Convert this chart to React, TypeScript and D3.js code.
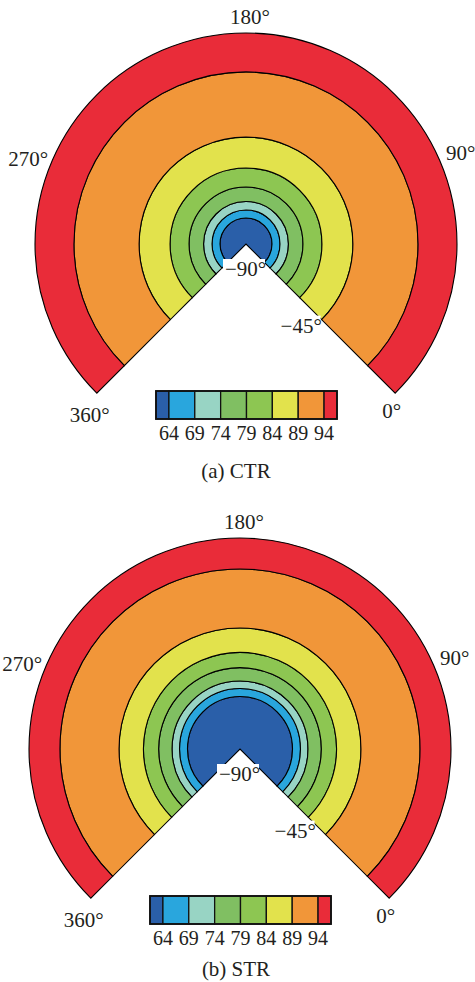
import * as d3 from 'd3';
import React from 'react';

// contour levels and the fill colour of each band (below 64 ... above 94)
const levels = [64, 69, 74, 79, 84, 89, 94];
const bandColors = ['#2A5FA9', '#29A6DD', '#98D4C4', '#80BF62', '#8DC652', '#E2E24C', '#F19639', '#E92C39'];
const azimuthTicks = [0, 90, 180, 270, 360];
const elevationTicks = [-90, -45];
const ctrContour = [-78.9, -75.5, -71.9, -65.7, -57.6, -44.4, -16.6];
const strContour = [-67.6, -64.2, -61.0, -55.3, -48.8, -38.4, -13.2];

const R = 211;
const font = "'Liberation Serif', 'Times New Roman', serif";
const ink = '#231F20';

// where each azimuth label sits relative to its point on the rim
const azLabel = {
  0: { dx: -13, dy: 25, anchor: 'start' },
  90: { dx: 5, dy: -3, anchor: 'start' },
  180: { dx: 4, dy: -9, anchor: 'middle' },
  270: { dx: -3, dy: 3, anchor: 'end' },
  360: { dx: -27, dy: 29, anchor: 'start' },
};

function Panel({ cx, cy, contour, caption, captionY }) {
  const rScale = d3.scaleLinear().domain([-90, 0]).range([0, R]);
  const aScale = d3.scaleLinear().domain([0, 360]).range([(3 * Math.PI) / 4, (-3 * Math.PI) / 4]);
  const arc = d3.arc();

  const polar = (az, el) => {
    const a = aScale(az), r = rScale(el);
    return [cx + r * Math.sin(a), cy - r * Math.cos(a)];
  };

  const bands = bandColors.map((c, k) => ({
    color: c,
    inner: k === 0 ? -90 : contour[k - 1],
    outer: k === bandColors.length - 1 ? 0 : contour[k],
  }));

  const legX = d3.scaleLinear().domain([61.5, 96.5]).range([cx - 90, cx + 91]);
  const edges = [61.5, ...levels, 96.5];
  const legY = cy + 147;

  return (
    <g>
      <g transform={`translate(${cx},${cy})`}>
        {bands.map((b, i) => (
          <path
            key={i}
            d={arc({
              innerRadius: rScale(b.inner),
              outerRadius: rScale(b.outer),
              startAngle: aScale(360),
              endAngle: aScale(0),
            })}
            fill={b.color}
            stroke="#000"
            strokeWidth={1.1}
          />
        ))}
      </g>

      {azimuthTicks.map((t) => {
        const [x, y] = polar(t, 0);
        const o = azLabel[t];
        return (
          <text key={t} x={x + o.dx} y={y + o.dy} textAnchor={o.anchor} fontSize={21} fontFamily={font} fill={ink}>
            {t}°
          </text>
        );
      })}

      {elevationTicks.map((t) => {
        const [x, y] = polar(0, t);
        const tx = t === -90 ? x - 21 : x - 40;
        const ty = t === -90 ? y + 32 : y + 14;
        return (
          <g key={t}>
            <rect x={tx - 2} y={ty - 17} width={42} height={20} fill="#fff" />
            <text x={tx} y={ty} fontSize={21} fontFamily={font} fill={ink}>
              {'\u2212' + Math.abs(t)}°
            </text>
          </g>
        );
      })}

      {bandColors.map((c, i) => (
        <rect
          key={i}
          x={legX(edges[i])}
          y={legY}
          width={legX(edges[i + 1]) - legX(edges[i])}
          height={28}
          fill={c}
          stroke="#111"
          strokeWidth={1.3}
        />
      ))}
      <rect x={legX(61.5)} y={legY} width={legX(96.5) - legX(61.5)} height={28} fill="none" stroke="#111" strokeWidth={1.8} />
      {levels.map((l) => (
        <text key={l} x={legX(l)} y={cy + 196} textAnchor="middle" fontSize={20} fontFamily={font} fill={ink}>
          {l}
        </text>
      ))}

      <text x={236} y={captionY} textAnchor="middle" fontSize={21} fontFamily={font} fill={ink}>
        {caption}
      </text>
    </g>
  );
}

export default function App() {
  return (
    <svg width={475} height={982} style={{ position: 'absolute', left: 0, top: 0, background: '#fff' }}>
      <rect width={475} height={982} fill="#fff" />
      <Panel cx={246} cy={244} contour={ctrContour} caption="(a) CTR" captionY={478} />
      <Panel cx={240} cy={749} contour={strContour} caption="(b) STR" captionY={976} />
    </svg>
  );
}
